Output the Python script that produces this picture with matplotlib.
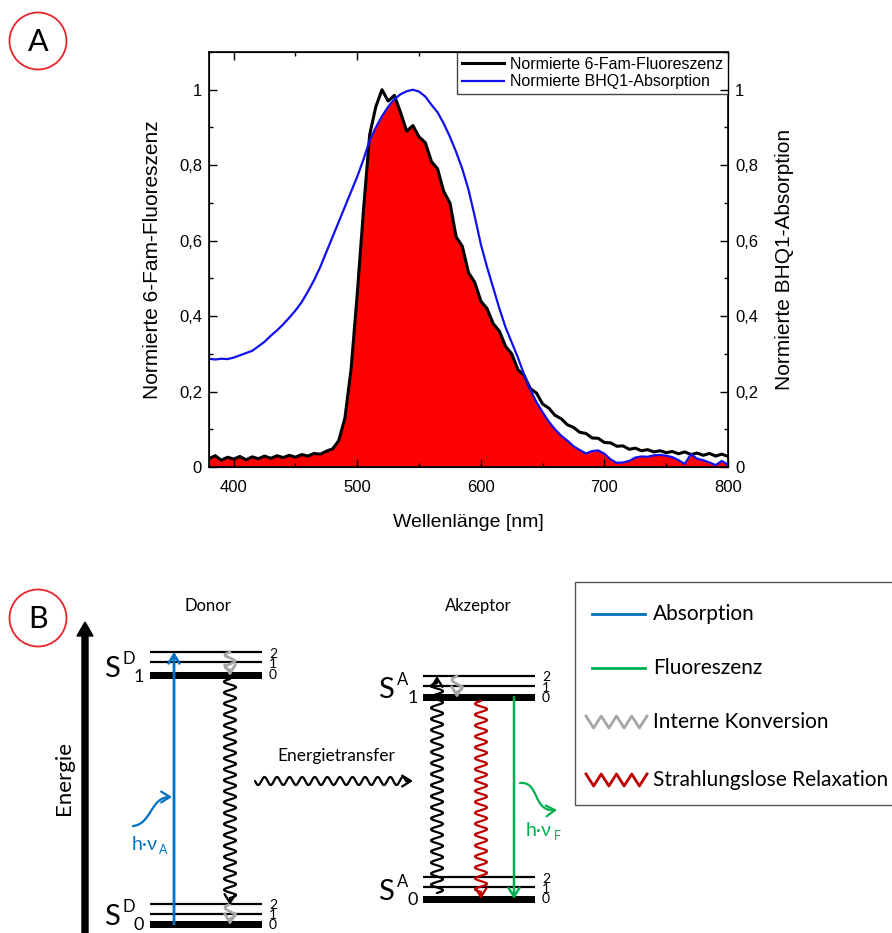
import numpy as np
import matplotlib
matplotlib.use("Agg")
import matplotlib.pyplot as plt
from matplotlib.patches import Circle, Rectangle, FancyArrowPatch
from matplotlib.path import Path
from matplotlib.ticker import MultipleLocator, FixedLocator, FuncFormatter

plt.rcParams["font.family"] = ["Liberation Sans", "DejaVu Sans"]

# ---------------- Panel A data ----------------
wavelength = np.arange(380, 801, 5)

fam_fluorescence = [
    0.022, 0.030, 0.018, 0.026, 0.021, 0.028, 0.019, 0.027, 0.022, 0.029,   # 380-425
    0.023, 0.030, 0.025, 0.031, 0.026, 0.033, 0.029, 0.036, 0.034, 0.042,   # 430-475
    0.048, 0.070, 0.130, 0.260, 0.460, 0.680, 0.880, 0.955, 1.000, 0.970,   # 480-525
    0.985, 0.940, 0.890, 0.905, 0.875, 0.860, 0.810, 0.790, 0.730, 0.700,   # 530-575
    0.610, 0.585, 0.515, 0.490, 0.440, 0.420, 0.380, 0.360, 0.320, 0.300,   # 580-625
    0.258, 0.243, 0.208, 0.196, 0.167, 0.156, 0.137, 0.128, 0.112, 0.105,   # 630-675
    0.092, 0.089, 0.077, 0.076, 0.065, 0.064, 0.055, 0.056, 0.047, 0.050,   # 680-725
    0.043, 0.046, 0.040, 0.043, 0.038, 0.041, 0.035, 0.040, 0.033, 0.037,   # 730-775
    0.031, 0.036, 0.029, 0.034, 0.028,                                      # 780-800
]

bhq1_absorption = [
    0.287, 0.285, 0.287, 0.286, 0.290, 0.296, 0.302, 0.308, 0.320, 0.332,   # 380-425
    0.348, 0.362, 0.378, 0.396, 0.415, 0.437, 0.465, 0.495, 0.530, 0.570,   # 430-475
    0.610, 0.650, 0.690, 0.730, 0.770, 0.815, 0.865, 0.900, 0.930, 0.955,   # 480-525
    0.975, 0.988, 0.996, 1.000, 0.995, 0.982, 0.960, 0.940, 0.910, 0.875,   # 530-575
    0.835, 0.790, 0.735, 0.665, 0.590, 0.530, 0.475, 0.420, 0.370, 0.330,   # 580-625
    0.290, 0.245, 0.205, 0.172, 0.145, 0.120, 0.100, 0.083, 0.070, 0.055,   # 630-675
    0.045, 0.036, 0.042, 0.044, 0.035, 0.020, 0.011, 0.012, 0.016, 0.025,   # 680-725
    0.028, 0.027, 0.031, 0.032, 0.030, 0.026, 0.018, 0.008, 0.034, 0.022,   # 730-775
    0.018, 0.012, 0.005, 0.016, 0.006,                                      # 780-800
]

x_major = [400, 500, 600, 700, 800]
y_major = [0, 0.2, 0.4, 0.6, 0.8, 1.0]

# ---------------- Panel B layout (pixel coordinates) ----------------
W, H = 892, 933
donor_x = (150, 262)
donor_s1 = (652, 662, 675)     # levels 2, 1, 0 (0 = thick)
donor_s0 = (904, 914, 924)
acc_x = (423, 535)
acc_s1 = (676, 686, 697)
acc_s0 = (877, 887, 899)

C_BLUE = "#0070c0"
C_GREEN = "#00b050"
C_GRAY = "#a6a6a6"
C_RED = "#c00000"
B_FONT = ["Lato", "DejaVu Sans"]

fig = plt.figure(figsize=(W / 100, H / 100), dpi=100)

# ================= Panel A =================
ax = fig.add_axes([209 / W, 1 - 467 / H, (728 - 209) / W, (467 - 52) / H])
fam = np.array(fam_fluorescence)
bhq = np.array(bhq1_absorption)
ax.fill_between(wavelength, 0, np.minimum(fam, bhq), color="#ff0000", lw=0, zorder=1)
ax.plot(wavelength, fam, color="black", lw=2.2, zorder=2, label="Normierte 6-Fam-Fluoreszenz")
ax.plot(wavelength, bhq, color="#1010f0", lw=1.6, zorder=3, label="Normierte BHQ1-Absorption")

ax.set_xlim(380, 800)
ax.set_ylim(0, 1.1)
comma = FuncFormatter(lambda v, p: ("%g" % v).replace(".", ","))
ax.xaxis.set_major_locator(FixedLocator(x_major))
ax.xaxis.set_minor_locator(MultipleLocator(50))
ax.yaxis.set_major_locator(FixedLocator(y_major))
ax.yaxis.set_minor_locator(MultipleLocator(0.1))
ax.yaxis.set_major_formatter(comma)
ax.tick_params(which="both", direction="in", top=True, labelsize=12, width=1)
ax.tick_params(which="major", length=6, pad=5)
ax.tick_params(which="minor", length=3)
ax.tick_params(axis="x", which="major", pad=9)
for s in ax.spines.values():
    s.set_linewidth(1.2)
ax.set_xlabel("Wellenlänge [nm]", fontsize=14, labelpad=14)
ax.set_ylabel("Normierte 6-Fam-Fluoreszenz", fontsize=15, labelpad=12)

ax2 = ax.twinx()
ax2.set_ylim(0, 1.1)
ax2.yaxis.set_major_locator(FixedLocator(y_major))
ax2.yaxis.set_minor_locator(MultipleLocator(0.1))
ax2.yaxis.set_major_formatter(comma)
ax2.tick_params(which="both", direction="in", labelsize=12, width=1)
ax2.tick_params(which="major", length=6, pad=5)
ax2.tick_params(which="minor", length=3)
ax2.set_ylabel("Normierte BHQ1-Absorption", fontsize=15, labelpad=12)

leg = ax.legend(loc="upper right", fontsize=11.5, frameon=True, fancybox=False,
                borderaxespad=0, borderpad=0.3, labelspacing=0.15,
                handlelength=2.6, handletextpad=0.4, framealpha=1)
leg.get_frame().set_edgecolor("#444444")
leg.get_frame().set_linewidth(1.0)
leg.set_zorder(10)

# ================= Panel B (schematic) =================
bx = fig.add_axes([0, 0, 1, 1], zorder=-1)
bx.set_xlim(0, W)
bx.set_ylim(H, 0)
bx.axis("off")


def head(x0, y0, x1, y1, color, lw=1.6):
    bx.annotate("", xy=(x1, y1), xytext=(x0, y0),
                arrowprops=dict(arrowstyle="->,head_length=0.45,head_width=0.28",
                                color=color, lw=lw, shrinkA=0, shrinkB=0,
                                mutation_scale=14))


def wavy(x0, y0, x1, y1, amp, period, color, lw=1.6, stem=7):
    d = np.hypot(x1 - x0, y1 - y0)
    ux, uy = (x1 - x0) / d, (y1 - y0) / d
    nx, ny = -uy, ux
    L = d - stem
    n = max(1, int(round(L / (period / 2))))
    t = np.linspace(0, L, 600)
    s = amp * np.sin(np.pi * n * t / L)
    xs = x0 + ux * t + nx * s
    ys = y0 + uy * t + ny * s
    bx.plot(xs, ys, color=color, lw=lw, solid_capstyle="round")
    head(xs[-1], ys[-1], x1, y1, color, lw)


def levels(xr, ys):
    for y in ys[:2]:
        bx.plot(xr, [y, y], color="black", lw=1.6, solid_capstyle="butt")
    bx.add_patch(Rectangle((xr[0], ys[2] - 3.5), xr[1] - xr[0], 7, color="black", lw=0))
    # level numbers 2 / 1 / 0 as one stacked text
    bx.text(xr[1] + 11, (ys[0] + ys[2]) / 2 + 1, "2\n1\n0", fontsize=10, family=B_FONT,
            ha="center", va="center", linespacing=0.82)


def s_label(x, y, sup, sub):
    bx.text(x, y, "S", fontsize=21, family=B_FONT, ha="center", va="center")
    bx.text(x + 17, y - 10, sup, fontsize=12, family=B_FONT, ha="center", va="center")
    bx.text(x + 27, y + 8, sub, fontsize=13, family=B_FONT, ha="center", va="center")


# panel letters
for cy, letter in ((41, "A"), (618, "B")):
    bx.add_patch(Circle((38, cy), 28.5, fill=False, ec="#e8242c", lw=1.3))
    bx.text(38, cy + 1, letter, fontsize=22, family=B_FONT, ha="center", va="center")

# energy axis
bx.arrow(85, 940, 0, -318, width=6, head_width=16, head_length=14,
         length_includes_head=True, color="black")
bx.text(64, 778, "Energie", rotation=90, fontsize=16, family=B_FONT, ha="center", va="center")

bx.text(208, 606, "Donor", fontsize=12, family=B_FONT, ha="center", va="center")
bx.text(478, 606, "Akzeptor", fontsize=12, family=B_FONT, ha="center", va="center")
bx.text(336, 756, "Energietransfer", fontsize=12.5, family=B_FONT, ha="center", va="center")

levels(donor_x, donor_s1)
levels(donor_x, donor_s0)
levels(acc_x, acc_s1)
levels(acc_x, acc_s0)
s_label(112, 669, "D", "1")
s_label(112, 917, "D", "0")
s_label(386, 690, "A", "1")
s_label(386, 892, "A", "0")

# donor transitions
head(174, donor_s0[2], 174, donor_s1[0], C_BLUE, lw=2)
wavy(230, donor_s1[0], 230, donor_s1[2] + 1, 5, 14, C_GRAY, lw=2, stem=6)
wavy(230, donor_s0[0], 230, donor_s0[2] + 1, 5, 14, C_GRAY, lw=2, stem=6)
wavy(230, donor_s1[2] + 4, 230, donor_s0[0] + 1, 6, 11, "black", lw=1.6)

absorb_curve = Path([(133, 826), (152, 824), (150, 797), (172, 797)],
                    [Path.MOVETO, Path.CURVE4, Path.CURVE4, Path.CURVE4])
bx.add_patch(FancyArrowPatch(path=absorb_curve, arrowstyle="->,head_length=0.45,head_width=0.28",
                             mutation_scale=14, color=C_BLUE, lw=1.6))
bx.text(132, 845, "h·ν", fontsize=14, family=B_FONT, color=C_BLUE, ha="left", va="center")
bx.text(163, 850, "A", fontsize=9, family=B_FONT, color=C_BLUE, ha="center", va="center")

# energy transfer
wavy(255, 781, 413, 781, 4, 12.5, "black", lw=1.6)

# acceptor transitions
wavy(437, acc_s0[0] + 16, 437, acc_s1[0], 6, 11, "black", lw=1.6)
wavy(457, acc_s1[0], 457, acc_s1[2] + 1, 5, 14, C_GRAY, lw=2, stem=6)
wavy(481, acc_s1[2] + 4, 481, acc_s0[2], 6, 11, C_RED, lw=1.6)
head(514, acc_s1[2], 514, acc_s0[2], C_GREEN, lw=1.8)

emit_curve = Path([(520, 783), (540, 781), (532, 812), (557, 810)],
                  [Path.MOVETO, Path.CURVE4, Path.CURVE4, Path.CURVE4])
bx.add_patch(FancyArrowPatch(path=emit_curve, arrowstyle="->,head_length=0.45,head_width=0.28",
                             mutation_scale=14, color=C_GREEN, lw=1.6))
bx.text(526, 830, "h·ν", fontsize=14, family=B_FONT, color=C_GREEN, ha="left", va="center")
bx.text(557, 836, "F", fontsize=9, family=B_FONT, color=C_GREEN, ha="center", va="center")

# legend box of panel B
bx.add_patch(Rectangle((575, 582), 340, 223, fill=False, ec="#555555", lw=1.0))
legend_items = [("Absorption", 614, C_BLUE, "line"),
                ("Fluoreszenz", 668, C_GREEN, "line"),
                ("Interne Konversion", 722, C_GRAY, "zig"),
                ("Strahlungslose Relaxation", 780, C_RED, "zig")]
for label, y, col, kind in legend_items:
    if kind == "line":
        bx.plot([592, 645], [y, y], color=col, lw=2)
    else:
        zx = np.linspace(586, 647, 9)
        zy = [y - 6 if i % 2 == 0 else y + 6 for i in range(9)]
        bx.plot(zx, zy, color=col, lw=2, solid_joinstyle="round")
    bx.text(653, y, label, fontsize=15, family=B_FONT, ha="left", va="center")

fig.savefig("out.png", dpi=100)
